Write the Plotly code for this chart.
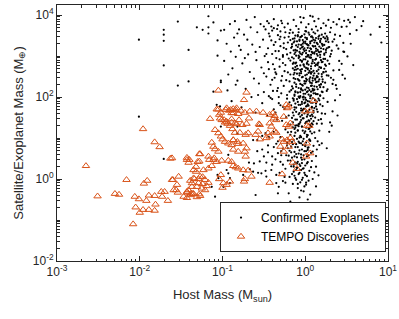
import plotly.graph_objects as go

# Values as (log10 host mass [M_sun], log10 body mass [M_earth])
exo_scattered = [
    (-2.01, 3.40), (-1.71, 3.64), (-1.71, 3.52), (-1.71, 3.37), (-1.71, 2.77), (-1.54, 3.84),
    (-1.41, 3.15), (-1.41, 2.38), (-1.54, 2.28), (-1.31, 3.70), (-1.24, 3.64), (-1.17, 3.97),
    (-1.17, 3.70), (-1.17, 3.55), (-1.11, 3.82), (-1.06, 3.38), (-1.06, 3.01), (-1.02, 3.62),
    (-0.98, 3.64), (-0.90, 3.11), (-0.82, 3.55), (-1.02, 2.40), (-1.02, 2.36), (-0.94, 2.16),
    (-0.84, 2.30), (-1.11, 2.13), (-2.01, 1.52), (-1.71, 0.49), (-1.07, 1.81), (-1.03, 1.77),
    (-0.93, 0.59), (-0.95, 0.22), (-0.93, 0.14), (-0.91, 0.02), (-1.06, 0.10), (-1.05, 0.02),
    (-1.13, -0.19), (-1.09, -0.43), (-1.02, 1.28), (-0.82, 1.28), (-0.82, 1.12), (-0.99, -0.19),
    (-0.91, -0.10), (-0.75, 0.10), (-0.60, -0.39), (-0.33, -0.35), (-0.32, -0.19), (-0.24, -0.09),
    (-0.18, -0.55), (0.01, -0.09), (0.13, 0.30), (-0.14, 0.30), (-0.06, 0.22), (-0.10, 0.38),
    (-0.02, 0.26), (-0.53, 0.14), (-0.47, 0.06), (-0.67, 0.24), (-0.63, 0.18),
]
exo_top = [
    (-0.50, 3.72), (-0.44, 3.80), (-0.38, 3.68), (-0.33, 3.75), (-0.29, 3.86), (-0.25, 3.70),
    (-0.21, 3.79), (-0.18, 3.64), (-0.14, 3.88), (-0.11, 3.73), (-0.08, 3.66), (-0.05, 3.82),
    (-0.02, 3.93), (0.01, 3.70), (0.04, 3.78), (0.06, 3.98), (0.08, 3.65), (0.11, 3.85),
    (0.13, 3.72), (0.16, 3.91), (0.19, 3.68), (0.22, 3.80), (0.25, 3.74), (0.28, 3.88),
    (0.31, 3.69), (0.34, 3.83), (0.38, 3.77), (0.41, 3.90), (0.44, 3.71), (-0.40, 3.62),
    (0.00, 3.61), (0.15, 3.62), (-0.30, 3.60), (0.47, 3.86), (-0.06, 3.95), (0.09, 3.96),
]
exo_upper = [
    (-0.47, 3.05), (-0.41, 3.38), (-0.36, 3.12), (-0.33, 3.51), (-0.30, 3.24), (-0.27, 3.02),
    (-0.25, 3.45), (-0.23, 3.17), (-0.21, 3.33), (-0.19, 3.56), (-0.18, 3.08), (-0.16, 3.29),
    (-0.15, 3.42), (-0.14, 3.14), (-0.12, 3.50), (-0.11, 3.01), (-0.10, 3.36), (-0.09, 3.22),
    (-0.08, 3.58), (-0.07, 3.10), (-0.06, 3.46), (-0.05, 3.27), (-0.04, 3.04), (-0.03, 3.39),
    (-0.02, 3.16), (-0.01, 3.53), (0.00, 3.31), (0.01, 3.07), (0.02, 3.44), (0.03, 3.20),
    (0.04, 3.57), (0.05, 3.12), (0.06, 3.35), (0.07, 3.03), (0.08, 3.48), (0.09, 3.25),
    (0.10, 3.40), (0.11, 3.09), (0.12, 3.55), (0.13, 3.18), (0.14, 3.32), (0.15, 3.01),
    (0.16, 3.47), (0.17, 3.23), (0.18, 3.37), (0.19, 3.11), (0.20, 3.52), (0.21, 3.28),
    (0.23, 3.06), (0.24, 3.43), (0.26, 3.19), (0.28, 3.34), (0.30, 3.58), (0.32, 3.13),
    (0.35, 3.41), (0.38, 3.26), (0.42, 3.49), (-0.44, 3.55), (-0.38, 3.27), (-0.31, 3.41),
    (-0.22, 3.04), (-0.20, 3.47), (-0.17, 3.20), (-0.13, 3.36), (-0.10, 3.13), (-0.08, 3.28),
    (-0.06, 3.06), (-0.04, 3.49), (-0.03, 3.23), (-0.01, 3.12), (0.00, 3.45), (0.02, 3.29),
    (0.03, 3.02), (0.05, 3.52), (0.06, 3.19), (0.08, 3.37), (0.09, 3.07), (0.10, 3.58),
    (0.12, 3.24), (0.13, 3.44), (0.15, 3.15), (0.17, 3.50), (0.18, 3.03), (0.20, 3.30),
    (0.22, 3.17), (0.24, 3.55), (0.25, 3.09), (0.27, 3.40), (0.29, 3.22), (0.33, 3.35),
    (-0.15, 3.57), (-0.12, 3.09), (-0.07, 3.40), (-0.02, 3.34), (0.04, 3.26), (0.07, 3.47),
    (0.11, 3.33), (0.14, 3.05), (0.19, 3.42), (0.23, 3.27), (-0.26, 3.31), (-0.24, 3.58),
    (-0.18, 3.39), (0.16, 3.11), (0.01, 3.60), (-0.09, 3.51), (0.26, 3.48), (0.31, 3.05),
    (0.36, 3.52), (0.40, 3.18),
]
exo_middle = [
    (-0.45, 2.85), (-0.40, 2.42), (-0.37, 2.68), (-0.34, 2.15), (-0.31, 2.92), (-0.28, 2.51),
    (-0.26, 2.27), (-0.24, 2.78), (-0.22, 2.05), (-0.21, 2.60), (-0.19, 2.38), (-0.18, 2.89),
    (-0.17, 2.17), (-0.15, 2.70), (-0.14, 2.46), (-0.13, 2.03), (-0.12, 2.82), (-0.11, 2.31),
    (-0.10, 2.57), (-0.09, 2.11), (-0.08, 2.95), (-0.07, 2.40), (-0.06, 2.66), (-0.05, 2.21),
    (-0.04, 2.86), (-0.03, 2.49), (-0.02, 2.08), (-0.01, 2.74), (0.00, 2.33), (0.01, 2.98),
    (0.02, 2.55), (0.03, 2.14), (0.04, 2.79), (0.05, 2.44), (0.06, 2.02), (0.07, 2.69),
    (0.08, 2.28), (0.09, 2.91), (0.10, 2.52), (0.11, 2.18), (0.12, 2.76), (0.13, 2.36),
    (0.14, 2.63), (0.15, 2.07), (0.16, 2.84), (0.17, 2.43), (0.18, 2.24), (0.19, 2.71),
    (0.20, 2.50), (0.21, 2.12), (0.22, 2.93), (0.24, 2.35), (0.25, 2.62), (0.27, 2.19),
    (0.29, 2.81), (0.31, 2.47), (0.34, 2.65), (0.37, 2.29), (0.41, 2.88), (0.45, 2.54),
    (-0.29, 2.09), (-0.25, 2.63), (-0.23, 2.41), (-0.20, 2.94), (-0.18, 2.55), (-0.16, 2.26),
    (-0.14, 2.84), (-0.12, 2.12), (-0.11, 2.67), (-0.09, 2.44), (-0.08, 2.01), (-0.06, 2.90),
    (-0.05, 2.58), (-0.03, 2.16), (-0.02, 2.80), (-0.01, 2.39), (0.00, 2.64), (0.02, 2.23),
    (0.03, 2.87), (0.04, 2.06), (0.06, 2.48), (0.07, 2.96), (0.08, 2.61), (0.10, 2.16),
    (0.11, 2.83), (0.12, 2.42), (0.14, 2.25), (0.15, 2.78), (0.16, 2.57), (0.18, 2.04),
    (0.19, 2.90), (0.21, 2.37), (0.23, 2.69), (0.26, 2.15), (0.28, 2.52), (0.30, 2.99),
    (0.33, 2.32), (-0.35, 2.56), (-0.27, 2.83), (-0.19, 2.13), (-0.10, 2.76), (-0.07, 2.53),
    (-0.04, 2.30), (-0.02, 2.92), (0.01, 2.45), (0.03, 2.70), (0.05, 2.97), (0.06, 2.35),
    (0.08, 2.82), (0.09, 2.20), (0.11, 2.58), (0.13, 2.93), (0.14, 2.48), (0.17, 2.73),
    (0.19, 2.31), (0.20, 2.85), (-0.13, 2.59), (-0.08, 2.22), (-0.04, 2.68), (0.00, 2.18),
    (0.05, 2.64), (0.09, 2.40), (0.12, 2.09), (0.16, 2.38), (0.22, 2.60), (-0.16, 2.97),
    (-0.06, 2.12), (0.02, 2.81), (0.07, 2.13), (0.24, 2.79),
]
exo_lower = [
    (-0.32, 1.85), (-0.28, 1.42), (-0.25, 1.71), (-0.22, 1.96), (-0.20, 1.55), (-0.18, 1.33),
    (-0.17, 1.80), (-0.15, 1.62), (-0.14, 1.91), (-0.12, 1.45), (-0.11, 1.74), (-0.10, 1.31),
    (-0.09, 1.88), (-0.08, 1.58), (-0.07, 1.99), (-0.06, 1.39), (-0.05, 1.67), (-0.04, 1.83),
    (-0.03, 1.48), (-0.02, 1.94), (-0.01, 1.60), (0.00, 1.36), (0.01, 1.77), (0.02, 1.52),
    (0.03, 1.90), (0.04, 1.43), (0.05, 1.69), (0.06, 1.32), (0.07, 1.86), (0.08, 1.57),
    (0.09, 1.97), (0.10, 1.41), (0.11, 1.73), (0.12, 1.50), (0.13, 1.84), (0.14, 1.35),
    (0.15, 1.64), (0.17, 1.92), (0.19, 1.46), (0.21, 1.78), (0.24, 1.59), (0.27, 1.88),
    (0.30, 1.38), (-0.36, 1.62), (-0.40, 1.95), (-0.19, 1.87), (-0.16, 1.49), (-0.13, 1.69),
    (-0.10, 1.95), (-0.08, 1.34), (-0.06, 1.81), (-0.04, 1.56), (-0.02, 1.71), (0.00, 1.98),
    (0.02, 1.40), (0.03, 1.65), (0.05, 1.89), (0.06, 1.54), (0.08, 1.76), (0.10, 1.62),
    (0.12, 1.93), (0.14, 1.70), (0.16, 1.44), (0.18, 1.82), (0.20, 1.60), (-0.23, 1.51),
    (-0.12, 1.30), (-0.05, 1.44), (0.04, 1.79), (0.09, 1.33), (-0.27, 1.76), (0.22, 1.97),
    (-0.01, 1.85), (0.07, 1.47), (-0.15, 1.97),
]
exo_bottom = [
    (-0.45, 0.82), (-0.38, 1.15), (-0.33, 0.63), (-0.30, 1.02), (-0.27, 0.74), (-0.24, 1.21),
    (-0.22, 0.88), (-0.20, 0.57), (-0.18, 1.08), (-0.17, 0.79), (-0.15, 1.26), (-0.14, 0.95),
    (-0.13, 0.66), (-0.12, 1.13), (-0.11, 0.85), (-0.10, 0.53), (-0.09, 1.19), (-0.08, 0.91),
    (-0.07, 0.70), (-0.06, 1.05), (-0.05, 0.60), (-0.04, 1.28), (-0.03, 0.83), (-0.02, 0.98),
    (-0.01, 0.68), (0.00, 1.16), (0.01, 0.89), (0.02, 0.55), (0.03, 1.07), (0.04, 0.77),
    (0.05, 1.23), (0.06, 0.93), (0.07, 0.64), (0.08, 1.11), (0.10, 0.81), (0.12, 1.00),
    (0.14, 0.72), (0.17, 1.18), (0.20, 0.87), (-0.52, 1.05), (-0.58, 0.68), (-0.40, 0.55),
    (-0.25, 0.95), (-0.21, 1.14), (-0.19, 0.69), (-0.16, 0.90), (-0.13, 1.22), (-0.11, 0.61),
    (-0.09, 0.78), (-0.07, 1.01), (-0.05, 0.87), (-0.03, 1.18), (-0.02, 0.58), (0.00, 0.80),
    (0.02, 1.03), (0.03, 0.71), (0.05, 0.96), (0.07, 1.27), (0.09, 0.67), (0.11, 1.14),
    (0.15, 0.92), (-0.35, 0.86), (-0.29, 0.58), (-0.16, 0.52), (-0.08, 1.29), (0.01, 1.25),
    (0.13, 0.56), (-0.40, 0.35), (-0.35, 0.10), (-0.30, 0.42), (-0.27, -0.05), (-0.24, 0.25),
    (-0.21, 0.45), (-0.19, 0.05), (-0.17, 0.31), (-0.15, -0.12), (-0.14, 0.18), (-0.12, 0.40),
    (-0.11, -0.02), (-0.10, 0.27), (-0.09, -0.22), (-0.08, 0.12), (-0.07, 0.36), (-0.06, -0.08),
    (-0.05, 0.22), (-0.04, 0.47), (-0.03, 0.03), (-0.02, -0.30), (-0.01, 0.15), (0.00, 0.33),
    (0.01, -0.14), (0.02, 0.07), (0.03, 0.41), (0.04, -0.04), (0.05, 0.20), (0.06, -0.38),
    (0.07, 0.29), (0.09, 0.00), (0.11, 0.16), (0.13, -0.18), (0.16, 0.09), (-0.48, 0.20),
    (-0.55, 0.43), (-0.20, -0.35), (-0.07, -0.45), (0.03, -0.50), (-0.13, 0.08), (-0.04, 0.39),
    (0.08, 0.44),
]
exo_core_dense = [
    (-0.13, 3.43), (-0.05, 3.47), (0.02, 3.41), (0.09, 3.45), (0.16, 3.42), (0.22, 3.46), (0.27, 3.44), (-0.09, 3.48),
    (-0.14, 3.33), (-0.07, 3.37), (0.00, 3.35), (0.06, 3.31), (0.12, 3.38), (0.18, 3.34), (0.25, 3.36), (-0.03, 3.30),
    (-0.11, 3.26), (-0.04, 3.21), (0.03, 3.27), (0.10, 3.23), (0.15, 3.29), (0.21, 3.25), (0.28, 3.21), (-0.16, 3.23),
    (-0.12, 3.15), (-0.06, 3.18), (0.01, 3.14), (0.07, 3.17), (0.13, 3.12), (0.19, 3.19), (0.25, 3.15), (-0.01, 3.19),
    (-0.13, 3.05), (-0.03, 3.08), (0.04, 3.02), (0.11, 3.06), (0.17, 3.09), (0.23, 3.03), (-0.08, 3.01), (0.08, 3.10),
    (-0.14, 2.94), (-0.07, 2.98), (0.00, 2.92), (0.06, 2.96), (0.12, 2.91), (0.18, 2.97), (0.24, 2.93), (0.03, 2.99),
    (-0.11, 2.84), (-0.04, 2.88), (0.02, 2.83), (0.09, 2.87), (0.15, 2.82), (0.21, 2.86), (0.27, 2.89), (-0.15, 2.81),
    (-0.12, 2.73), (-0.06, 2.77), (0.01, 2.71), (0.07, 2.75), (0.13, 2.79), (0.19, 2.72), (0.25, 2.76), (-0.02, 2.78),
    (-0.13, 2.66), (-0.05, 2.62), (0.03, 2.68), (0.10, 2.64), (0.16, 2.67), (0.22, 2.61), (-0.09, 2.69), (0.06, 2.60),
    (-0.14, 2.55), (-0.07, 2.58), (0.00, 2.53), (0.07, 2.57), (0.14, 2.51), (0.20, 2.56), (0.26, 2.53), (0.04, 2.59),
    (-0.12, 2.44), (-0.04, 2.48), (0.02, 2.42), (0.09, 2.46), (0.15, 2.49), (0.21, 2.43), (-0.08, 2.41), (0.12, 2.45),
    (-0.13, 2.35), (-0.06, 2.32), (0.01, 2.38), (0.08, 2.34), (0.14, 2.37), (0.19, 2.31), (-0.01, 2.33), (0.05, 2.39),
    (-0.11, 2.25), (-0.03, 2.28), (0.04, 2.22), (0.11, 2.26), (0.17, 2.29), (-0.15, 2.21), (0.07, 2.27), (0.22, 2.24),
    (-0.12, 2.14), (-0.05, 2.18), (0.02, 2.12), (0.09, 2.16), (0.15, 2.19), (-0.09, 2.11), (0.05, 2.17), (0.20, 2.13),
    (-0.13, 2.06), (-0.06, 2.02), (0.00, 2.08), (0.07, 2.04), (0.13, 2.07), (-0.02, 2.01), (0.10, 2.09), (0.18, 2.03),
    (-0.14, 1.95), (-0.07, 1.98), (0.01, 1.93), (0.06, 1.97), (0.12, 1.92), (-0.03, 1.99), (0.16, 1.96),
    (-0.12, 1.84), (-0.04, 1.88), (0.03, 1.82), (0.09, 1.86), (0.14, 1.89), (-0.08, 1.81), (0.00, 1.87),
    (-0.13, 1.75), (-0.05, 1.72), (0.02, 1.78), (0.08, 1.74), (0.13, 1.77), (-0.01, 1.71),
    (-0.11, 1.64), (-0.03, 1.68), (0.04, 1.62), (0.10, 1.66), (-0.07, 1.61), (0.01, 1.65),
]
exo_column = [
    (-0.14, 1.55), (-0.06, 1.52), (0.03, 1.57), (0.09, 1.53), (-0.10, 1.45), (-0.02, 1.48), (0.05, 1.42),
    (-0.15, 1.38), (-0.07, 1.35), (0.01, 1.39), (0.08, 1.36), (-0.12, 1.25), (-0.04, 1.28), (0.04, 1.22),
    (-0.17, 1.15), (-0.09, 1.18), (-0.01, 1.12), (0.06, 1.16), (-0.13, 1.05), (-0.05, 1.02), (0.02, 1.08),
    (-0.19, 0.95), (-0.10, 0.98), (-0.03, 0.92), (0.05, 0.96), (-0.15, 0.85), (-0.07, 0.88), (0.00, 0.82),
    (-0.21, 0.75), (-0.12, 0.78), (-0.04, 0.72), (0.03, 0.76), (-0.17, 0.65), (-0.08, 0.62), (0.01, 0.68),
    (-0.13, 0.55), (-0.05, 0.52), (0.04, 0.58), (-0.18, 0.45), (-0.09, 0.42), (-0.01, 0.48), (-0.14, 0.35),
    (-0.06, 0.32), (0.02, 0.38), (-0.11, 0.22), (-0.03, 0.25), (-0.16, 0.12), (-0.07, 0.15), (0.00, 0.10),
    (-0.12, 0.02), (-0.04, -0.02), (-0.09, -0.12), (-0.01, -0.18), (-0.05, -0.28),
    (-0.58, 0.95), (-0.52, 0.72), (-0.47, 0.40), (-0.44, 1.02), (-0.41, 0.22), (-0.38, 0.78),
    (-0.36, 0.48), (-0.33, 0.92), (-0.31, 0.15), (-0.29, 0.68), (-0.27, 0.35), (-0.25, 0.05),
    (-0.23, 0.58), (-0.22, 0.82), (-0.50, 0.55), (-0.35, -0.10), (-0.62, 0.38), (-0.45, 0.65),
]
exo_diffuse = [
    (-0.98, 2.88), (-0.95, 3.30), (-0.93, 2.55), (-0.91, 3.78), (-0.88, 2.70), (-0.86, 3.45),
    (-0.84, 2.98), (-0.82, 2.40), (-0.80, 3.65), (-0.78, 3.15), (-0.76, 2.82), (-0.74, 3.52),
    (-0.72, 2.20), (-0.71, 3.88), (-0.69, 3.04), (-0.67, 2.61), (-0.66, 3.70), (-0.64, 3.28),
    (-0.62, 2.45), (-0.61, 3.95), (-0.59, 2.90), (-0.58, 3.58), (-0.56, 2.33), (-0.55, 3.22),
    (-0.54, 3.78), (-0.53, 2.72), (-0.51, 3.40), (-0.50, 2.12), (-0.49, 3.00), (-0.48, 3.65),
    (-0.47, 2.50), (-0.46, 3.85), (-0.45, 3.19), (-0.44, 2.68), (-0.43, 3.48), (-0.42, 2.30),
    (-0.41, 3.72), (-0.40, 3.05), (-0.39, 2.80), (-0.38, 3.90), (-0.37, 2.47), (-0.36, 3.34),
    (-0.35, 2.95), (-0.34, 3.66), (-0.33, 2.22), (-0.32, 3.12), (-0.31, 2.74), (-0.30, 3.47),
    (-0.29, 2.40), (-0.28, 3.80), (-0.27, 2.98), (-0.26, 3.20), (-0.89, 1.90), (-0.77, 1.75),
    (-0.65, 2.00), (-0.60, 1.62), (-0.52, 1.85), (-0.46, 1.55), (-0.42, 1.98), (-0.38, 1.70),
    (-0.34, 1.45), (-0.55, 1.30), (-0.48, 1.12), (-0.63, 0.95), (-0.68, 0.40), (-0.57, 0.15),
    (-0.80, 3.25), (-0.73, 2.95), (-0.57, 2.05), (-0.50, 2.58), (-0.44, 2.02), (-0.39, 2.15),
    (-0.36, 2.60), (-0.32, 2.00), (-0.30, 1.80), (-0.85, 3.85), (-0.70, 3.40), (-0.60, 3.10),
]
exo_right = [
    (0.60, 3.95), (0.54, 3.82), (0.90, 3.71), (0.79, 3.52), (0.92, 3.33), (0.54, 3.54),
    (0.46, 3.32), (0.51, 2.99), (0.34, 2.42), (0.41, 2.66), (0.32, 1.30), (0.20, 1.35),
    (0.17, 0.83), (0.50, 3.72), (0.47, 3.10), (0.44, 2.81), (0.38, 2.20), (0.36, 1.92),
    (0.33, 1.65), (0.29, 1.15), (0.26, 0.75), (0.55, 3.30), (0.48, 2.45), (0.42, 2.05),
    (0.62, 3.63), (0.70, 3.85), (0.58, 2.78), (0.39, 1.55), (0.52, 3.88), (0.68, 3.73),
    (0.46, 3.11),
]

tempo_left = [
    (-2.65, 0.32), (-2.51, -0.42), (-2.30, -0.36), (-2.25, -0.38), (-2.16, -0.02), (-2.08, -1.10),
    (-2.06, -0.43), (-2.05, -0.69), (-2.01, -0.49), (-2.00, -0.82), (-1.96, -0.75), (-1.96, 1.22),
    (-1.95, -0.11), (-1.91, -0.04), (-1.92, -0.53), (-1.89, -0.40), (-1.89, -0.75), (-1.82, -0.41),
    (-1.82, -0.77), (-1.82, 0.90), (-1.81, -0.62), (-1.76, 0.78), (-1.74, -0.31), (-1.70, -0.31),
    (-1.73, -0.43), (-1.66, -0.53), (-1.63, 0.50), (-1.60, -0.02), (-1.53, 0.06), (-1.55, -0.14),
    (-1.56, -0.27), (-1.54, -0.33), (-1.43, -0.33), (-1.43, -0.46), (-1.41, -0.27), (-1.38, -0.35),
    (-1.35, -0.36), (-1.34, 0.00), (-1.31, -0.19), (-1.28, -0.37), (-1.32, 0.30), (-1.28, 0.43),
    (-1.39, -0.04), (-1.37, -0.10), (-1.43, 0.52), (-1.43, 0.47), (-1.28, 0.61), (-1.30, 0.42),
]
tempo_middle = [
    (-1.05, 2.16), (-1.15, 1.47), (-1.05, 1.70), (-1.02, 1.62), (-1.04, 1.57), (-0.95, 1.73),
    (-0.92, 1.67), (-0.89, 1.61), (-0.84, 1.69), (-0.81, 1.59), (-1.01, 1.44), (-0.97, 1.38),
    (-0.94, 1.35), (-0.91, 1.30), (-0.88, 1.22), (-0.85, 1.13), (-1.09, 1.20), (-1.05, 1.12),
    (-1.02, 1.04), (-1.13, 0.89), (-1.11, 0.79), (-1.09, 0.73), (-1.05, 0.67), (-1.00, 0.97),
    (-0.97, 0.91), (-0.93, 0.87), (-0.87, 0.95), (-0.82, 0.91), (-1.10, 0.51), (-1.16, 0.47),
    (-1.17, 0.55), (-1.27, 0.61), (-1.41, 0.40), (-1.40, 0.47), (-1.61, 0.51), (-1.11, 0.47),
    (-1.07, 0.42), (-1.01, 0.45), (-0.93, 0.45), (-0.89, 0.42), (-1.13, 0.32), (-1.17, 0.26),
    (-1.23, 0.22), (-1.35, 0.22), (-1.32, 0.18), (-1.27, 0.06), (-1.29, 0.00), (-1.24, 0.05),
    (-1.21, -0.02), (-1.17, -0.09), (-1.24, -0.12), (-1.19, -0.17), (-1.29, -0.10), (-1.25, -0.23),
    (-1.21, -0.27), (-1.35, 0.02), (-1.37, -0.19), (-1.43, -0.31), (-1.39, -0.39), (-1.36, -0.36),
    (-1.47, -0.43), (-1.27, -0.41), (-1.31, -0.44), (-1.61, -0.02), (-1.59, -0.27), (-0.99, -0.10),
    (-1.00, -0.21), (-0.95, -0.14), (-0.84, 0.29), (-0.87, 0.32), (-0.81, 0.26), (-1.04, 0.00),
    (-1.02, 0.10), (-0.91, -0.06), (-1.07, 1.70), (-0.96, 1.69), (-0.90, 1.69), (-0.87, 1.61),
    (-1.03, 1.48), (-0.98, 1.44), (-0.95, 1.40), (-0.89, 1.46), (-0.80, 1.44), (-0.76, 1.32),
    (-0.71, 1.35), (-0.68, 1.48),
]
tempo_right = [
    (-0.71, 2.11), (-0.74, 1.93), (-0.87, 1.71), (-0.83, 1.73), (-0.78, 1.67), (-0.73, 1.62),
    (-0.67, 1.65), (-0.59, 1.65), (-0.51, 1.62), (-0.39, 1.61), (-0.37, 1.54), (-0.26, 1.52),
    (-0.23, 1.81), (-0.89, 1.38), (-0.85, 1.36), (-0.83, 1.34), (-0.56, 1.34), (-0.43, 1.36),
    (-0.79, 1.13), (-0.72, 1.08), (-0.69, 1.12), (-0.60, 1.08), (-0.55, 0.97), (-0.47, 1.00),
    (-0.37, 1.16), (-0.35, 1.13), (-0.28, 0.97), (-0.26, 0.91), (-0.22, 0.95), (-0.18, 1.00),
    (-0.87, 0.95), (-0.89, 0.83), (-0.81, 0.86), (-0.75, 0.87), (-0.71, 0.75), (-0.87, 0.72),
    (-0.81, 0.67), (-0.73, 0.67), (-0.72, 0.55), (-0.75, 0.22), (-0.69, 0.21), (-0.73, 0.00),
    (-0.74, -0.06), (-0.65, 0.06), (-0.43, -0.09), (-0.20, 1.77), (0.06, 1.67), (0.10, 1.91),
    (0.02, 1.30), (-0.22, 1.73), (-0.38, 1.48), (-0.35, 1.44), (-0.23, 1.32), (-0.20, 1.28),
    (-0.18, 1.36), (0.00, 1.65), (0.05, 1.30), (-0.16, 0.91), (-0.20, 0.79), (-0.30, 0.79),
    (-0.26, 0.67), (-0.41, 1.28), (-0.43, 1.57), (-0.55, 1.32), (-0.57, 1.16), (-0.45, 1.12),
    (-0.43, 1.04), (0.02, 0.87), (0.06, 0.63), (0.01, 0.55), (-0.15, 0.40), (-0.10, 0.25),
    (-0.28, 0.12),
]

x_tick_vals = [1e-3, 1e-2, 1e-1, 1e0, 1e1]
x_tick_text = ["10<sup>-3</sup>", "10<sup>-2</sup>", "10<sup>-1</sup>", "10<sup>0</sup>", "10<sup>1</sup>"]
y_tick_vals = [1e-2, 1e0, 1e2, 1e4]
y_tick_text = ["10<sup>-2</sup>", "10<sup>0</sup>", "10<sup>2</sup>", "10<sup>4</sup>"]

exo_all = (exo_scattered + exo_top + exo_upper + exo_middle + exo_lower + exo_bottom
           + exo_core_dense + exo_column + exo_diffuse + exo_right)
tempo_all = tempo_left + tempo_middle + tempo_right

exo_x = [10 ** a for a, b in exo_all]
exo_y = [10 ** b for a, b in exo_all]
tempo_x = [10 ** a for a, b in tempo_all]
tempo_y = [10 ** b for a, b in tempo_all]

minor_x = [m * 10 ** e for e in range(-3, 1) for m in range(2, 10)]
minor_y = [m * 10 ** e for e in range(-2, 5) for m in range(1, 10) if not (m == 1 and e % 2 == 0)]

axis_color = "#262626"
font_family = "Arial, Liberation Sans, Helvetica, sans-serif"

fig = go.Figure()
fig.add_trace(go.Scatter(
    x=exo_x, y=exo_y, mode="markers", name="Confirmed Exoplanets",
    marker=dict(symbol="circle", size=2.2, color="black", line=dict(width=0)),
))
fig.add_trace(go.Scatter(
    x=tempo_x, y=tempo_y, mode="markers", name="TEMPO Discoveries",
    marker=dict(symbol="triangle-up-open", size=6.5, color="#D95319", line=dict(width=1, color="#D95319")),
))

common = dict(
    type="log", showgrid=False, zeroline=False, showline=True, linecolor=axis_color, linewidth=1,
    mirror="allticks", ticks="inside", ticklen=5, tickcolor=axis_color, tickwidth=1, automargin=False,
    tickfont=dict(family=font_family, size=12, color=axis_color),
)
fig.update_xaxes(
    **common, range=[-3, 1], tickmode="array", tickvals=x_tick_vals, ticktext=x_tick_text,
    minor=dict(tickmode="array", tickvals=minor_x, ticks="inside", ticklen=2.5, tickcolor=axis_color, showgrid=False),
    title=dict(text="Host Mass (M<sub>sun</sub>)", font=dict(family=font_family, size=13, color=axis_color), standoff=11),
)
fig.update_yaxes(
    **common, range=[-2, 4.245], tickmode="array", tickvals=y_tick_vals, ticktext=y_tick_text,
    minor=dict(tickmode="array", tickvals=minor_y, ticks="inside", ticklen=2.5, tickcolor=axis_color, showgrid=False),
    title=dict(text="Satellite/Exoplanet Mass (M<sub>⊕</sub>)", font=dict(family=font_family, size=13, color=axis_color), standoff=6),
)
fig.update_layout(
    width=399, height=319, margin=dict(l=57, r=11, t=5, b=58, autoexpand=False),
    paper_bgcolor="white", plot_bgcolor="white",
    font=dict(family=font_family, color=axis_color),
    legend=dict(x=0.994, y=0.035, xanchor="right", yanchor="bottom", bgcolor="white",
                bordercolor=axis_color, borderwidth=1, font=dict(family=font_family, size=12, color="black"),
                tracegroupgap=0, itemsizing="trace"),
    showlegend=True,
)
fig.write_html("out.html", config={"displayModeBar": False},
               post_script="document.body.style.margin='0px';")
